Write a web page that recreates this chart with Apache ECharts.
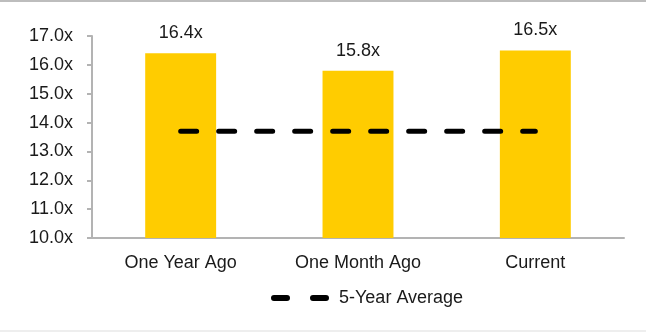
<!DOCTYPE html>
<html>
<head>
<meta charset="utf-8">
<script src="https://cdn.jsdelivr.net/npm/echarts@6/dist/echarts.min.js"></script>
<style>
  html, body { margin: 0; padding: 0; background: #fff; }
  #wrap { position: relative; width: 646px; height: 333px; }
  #topline { position: absolute; left: 0; top: 0; width: 646px; height: 2px; background: #bdbdbd; }
  #botline { position: absolute; left: 0; top: 330px; width: 646px; height: 2px; background: #eeeeee; }
  #chart { position: absolute; left: 0; top: 0; width: 646px; height: 333px; }
</style>
</head>
<body>
<div id="wrap">
  <div id="chart"></div>
  <div id="topline"></div>
  <div id="botline"></div>
</div>
<script>
// P/E multiples at three points in time, plus the five-year average
const categories = ['One Year Ago', 'One Month Ago', 'Current'];
const multiples = [16.4, 15.8, 16.5];
const fiveYearAverage = [13.7, 13.7, 13.7];
const averageName = '5-Year Average';

const FONT = '"Liberation Sans", Arial, sans-serif';
// two rounded dashes used as the legend marker
const DASH_ICON = 'path://M3,0H16A3,3,0,0,1,16,6H3A3,3,0,0,1,3,0Z M42,0H55A3,3,0,0,1,55,6H42A3,3,0,0,1,42,0Z';

const chart = echarts.init(document.getElementById('chart'), null, { renderer: 'canvas' });
chart.setOption({
  animation: false,
  grid: { left: 92, right: 22, top: 36, bottom: 95, containLabel: false },
  legend: {
    data: [{ name: averageName, icon: DASH_ICON }],
    top: 284,
    left: 266,
    itemWidth: 58,
    itemHeight: 6,
    itemGap: 10,
    textStyle: { fontFamily: FONT, fontSize: 18, color: '#1a1a1a', padding: [0, 0, 0, 5] }
  },
  xAxis: {
    type: 'category',
    data: categories,
    axisLine: { lineStyle: { color: '#b3b3b3', width: 2 } },
    axisTick: { show: false },
    axisLabel: { fontFamily: FONT, fontSize: 18, color: '#1a1a1a', margin: 16 }
  },
  yAxis: {
    type: 'value',
    min: 10,
    max: 17,
    interval: 1,
    splitLine: { show: false },
    axisLine: { show: true, lineStyle: { color: '#b3b3b3', width: 2 } },
    axisTick: { show: true, length: 5, lineStyle: { color: '#b3b3b3', width: 2 } },
    axisLabel: {
      fontFamily: FONT, fontSize: 18, color: '#1a1a1a', margin: 19,
      formatter: v => v.toFixed(1) + 'x'
    }
  },
  series: [
    {
      type: 'bar',
      data: multiples,
      barWidth: '40%',
      itemStyle: { color: '#FFCC00' },
      label: {
        show: true, position: 'top', distance: 11,
        fontFamily: FONT, fontSize: 18, color: '#1a1a1a',
        formatter: p => p.value.toFixed(1) + 'x'
      }
    },
    {
      type: 'line',
      name: averageName,
      data: fiveYearAverage,
      symbol: 'none',
      z: 5,
      lineStyle: { color: '#000', width: 5, type: [16, 22], cap: 'round' },
      itemStyle: { color: '#000' }
    }
  ]
});
</script>
</body>
</html>
